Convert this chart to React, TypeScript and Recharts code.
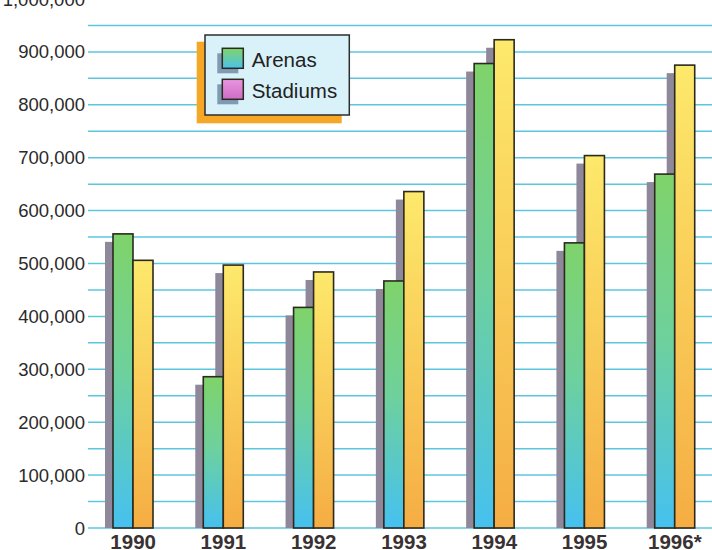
import React from 'react';
import { BarChart, Bar, XAxis, YAxis, CartesianGrid } from 'recharts';

const categories = ['1990', '1991', '1992', '1993', '1994', '1995', '1996*'];
const arenas = [556000, 286000, 417000, 467000, 878000, 539000, 669000];
const stadiums = [506000, 497000, 484000, 636000, 923000, 704000, 875000];
const yTicks = [
  0, 50000, 100000, 150000, 200000, 250000, 300000, 350000, 400000, 450000, 500000,
  550000, 600000, 650000, 700000, 750000, 800000, 850000, 900000, 950000, 1000000,
];
const seriesNames = ['Arenas', 'Stadiums'];

const data = categories.map((year, i) => ({ year, arenas: arenas[i], stadiums: stadiums[i] }));

const FONT = '"Liberation Sans", Arial, Helvetica, sans-serif';
const SHADOW = '#8f889a';
const OUTLINE = '#2b2a1e';

const ShadowShape = (props: any) => {
  const { x, y, width, height } = props;
  const off = 8;
  const h = Math.max(0, height - off);
  return <rect x={x - off} y={y + off} width={width} height={h} fill={SHADOW} />;
};

const BarShape = (props: any) => {
  const { x, y, width, height, fill } = props;
  return (
    <rect x={x} y={y} width={width} height={height} fill={fill} stroke={OUTLINE} strokeWidth={1.6} />
  );
};

const YTick = (props: any) => {
  const { x, y, payload } = props;
  if (payload.value % 100000 !== 0) return <g />;
  return (
    <text x={x} y={y} dy="0.355em" textAnchor="end" fontSize={18.5} fill="#2a2a2a" fontFamily={FONT}>
      {payload.value.toLocaleString('en-US')}
    </text>
  );
};

const XTick = (props: any) => {
  const { x, y, payload } = props;
  return (
    <text x={x} y={y + 20.5} textAnchor="middle" fontSize={20.5} fontWeight="bold" fill="#3a3232" fontFamily={FONT}>
      {payload.value}
    </text>
  );
};

const LegendBox = () => (
  <svg width={170} height={100} style={{ display: 'block', position: 'absolute', left: 190, top: 30 }}>
    <defs>
      <linearGradient id="legA" x1="0" y1="0" x2="0" y2="1">
        <stop offset="0%" stopColor="#80d468" />
        <stop offset="100%" stopColor="#4cc2ee" />
      </linearGradient>
      <linearGradient id="legS" x1="0" y1="0" x2="0" y2="1">
        <stop offset="0%" stopColor="#e796de" />
        <stop offset="100%" stopColor="#cf6cc6" />
      </linearGradient>
    </defs>
    <rect x={6.7} y={11.7} width={145} height={81.6} fill="#f6a726" />
    <rect x={15} y={5} width={144.3} height={80} fill="#d9f1f9" stroke="#2d2d2d" strokeWidth={1.5} />
    <rect x={27.3} y={23.3} width={21} height={20} fill="#7f9ab2" />
    <rect x={32.3} y={18.3} width={21} height={20} fill="url(#legA)" stroke={OUTLINE} strokeWidth={1.5} />
    <rect x={27.3} y={54.3} width={21} height={20} fill="#7f9ab2" />
    <rect x={32.3} y={49.3} width={21} height={20} fill="url(#legS)" stroke={OUTLINE} strokeWidth={1.5} />
    <text x={61.7} y={29.3} dy="0.355em" fontSize={20.5} fill="#222" fontFamily={FONT}>
      {seriesNames[0]}
    </text>
    <text x={61.7} y={60.7} dy="0.355em" fontSize={20.5} fill="#222" fontFamily={FONT}>
      {seriesNames[1]}
    </text>
  </svg>
);

export default function App() {
  return (
    <div style={{ position: 'fixed', left: 0, top: 0, width: 712, height: 550, overflow: 'hidden', background: '#fff' }}>
      <div style={{ position: 'absolute', left: 0, top: -20 }}>
        <BarChart
          width={730}
          height={588}
          data={data}
          margin={{ top: 19, right: 10, bottom: 0, left: 0 }}
          barGap={0}
        >
          <defs>
            <linearGradient id="gradA" x1="0" y1="0" x2="0" y2="1">
              <stop offset="0%" stopColor="#7fd36a" />
              <stop offset="45%" stopColor="#6fd19a" />
              <stop offset="100%" stopColor="#46c1f0" />
            </linearGradient>
            <linearGradient id="gradS" x1="0" y1="0" x2="0" y2="1">
              <stop offset="0%" stopColor="#fde96c" />
              <stop offset="100%" stopColor="#f5ad43" />
            </linearGradient>
          </defs>
          <CartesianGrid vertical={false} stroke="#5cc6df" strokeWidth={1.5} />
          <XAxis
            dataKey="year"
            height={40}
            axisLine={false}
            tickLine={false}
            tickSize={0}
            tickMargin={0}
            tick={<XTick />}
            interval={0}
          />
          <XAxis xAxisId="s" dataKey="year" hide />
          <YAxis
            width={88}
            domain={[0, 1000000]}
            ticks={yTicks}
            interval={0}
            axisLine={false}
            tickLine={false}
            tickSize={0}
            tickMargin={3}
            tick={<YTick />}
          />
          <Bar xAxisId="s" dataKey="arenas" barSize={20} shape={<ShadowShape />} isAnimationActive={false} legendType="none" />
          <Bar xAxisId="s" dataKey="stadiums" barSize={20} shape={<ShadowShape />} isAnimationActive={false} legendType="none" />
          <Bar dataKey="arenas" name={seriesNames[0]} barSize={20} fill="url(#gradA)" shape={<BarShape />} isAnimationActive={false} />
          <Bar dataKey="stadiums" name={seriesNames[1]} barSize={20} fill="url(#gradS)" shape={<BarShape />} isAnimationActive={false} />
        </BarChart>
      </div>
      <LegendBox />
    </div>
  );
}
